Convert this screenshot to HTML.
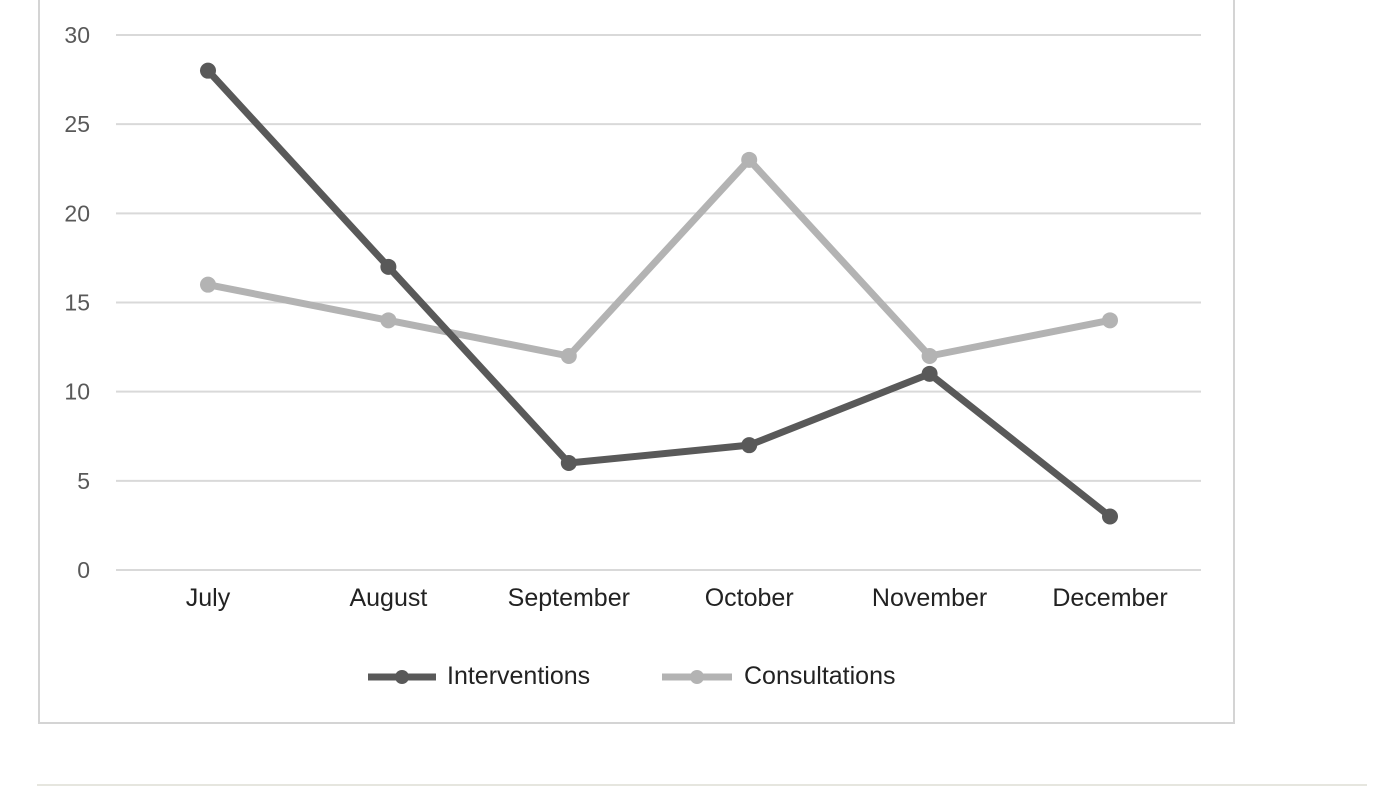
<!DOCTYPE html>
<html><head><meta charset="utf-8"><style>
html,body{margin:0;padding:0;background:#fff;}
svg{display:block;font-family:"Liberation Sans",sans-serif;}
</style></head><body>
<svg id="chart" width="1400" height="786">
<rect x="39" y="-2" width="1195" height="725" fill="none" stroke="#d4d4d4" stroke-width="2"/>
<line x1="37" y1="785" x2="1367" y2="785" stroke="#e6e6df" stroke-width="2"/>
<g id="grid"></g><g id="ylab"></g><g id="xlab"></g><g id="series"></g>
<g>
<g>
<line x1="368" y1="677" x2="436" y2="677" stroke="#595959" stroke-width="7"/>
<circle cx="402" cy="677" r="7" fill="#595959"/>
<text x="447" y="684" font-size="25" fill="#222">Interventions</text></g>
<g>
<line x1="662" y1="677" x2="732" y2="677" stroke="#b3b3b3" stroke-width="7"/>
<circle cx="697" cy="677" r="7" fill="#b3b3b3"/>
<text x="744" y="684" font-size="25" fill="#222">Consultations</text></g>
</g>
</svg>
<script>
const categories=["July","August","September","October","November","December"];
const interventions=[28,17,6,7,11,3];
const consultations=[16,14,12,23,12,14];
const yTicks=[0,5,10,15,20,25,30];
const NS="http://www.w3.org/2000/svg";
const y=v=>570-v*(535/30);
const x=i=>208+i*180.4;
function mk(t,a,p){const e=document.createElementNS(NS,t);for(const k in a)e.setAttribute(k,a[k]);p.appendChild(e);return e;}
const grid=document.getElementById('grid'),yl=document.getElementById('ylab'),xl=document.getElementById('xlab'),sg=document.getElementById('series');
yTicks.forEach(v=>{
 const l=mk('line',{x1:116,x2:1201,y1:y(v),y2:y(v),stroke:'#d9d9d9','stroke-width':2},grid);
 
 
 const t=mk('text',{x:90,y:y(v)+8,'font-size':23,fill:'#595959','text-anchor':'end'},yl);t.textContent=v;
 
 
});
categories.forEach((c,i)=>{
 const t=mk('text',{x:x(i),y:606,'font-size':25,fill:'#222','text-anchor':'middle'},xl);t.textContent=c;
 
 
});
function draw(vals,col,name){
 const p=mk('polyline',{points:vals.map((v,i)=>x(i)+','+y(v)).join(' '),fill:'none',stroke:col,'stroke-width':7,'stroke-linejoin':'round'},sg);
 
 
 vals.forEach((v,i)=>{const c=mk('circle',{cx:x(i),cy:y(v),r:8,fill:col},sg);
 
 });
}
draw(consultations,'#b3b3b3','consultations');
draw(interventions,'#595959','interventions');
</script>
</body></html>
